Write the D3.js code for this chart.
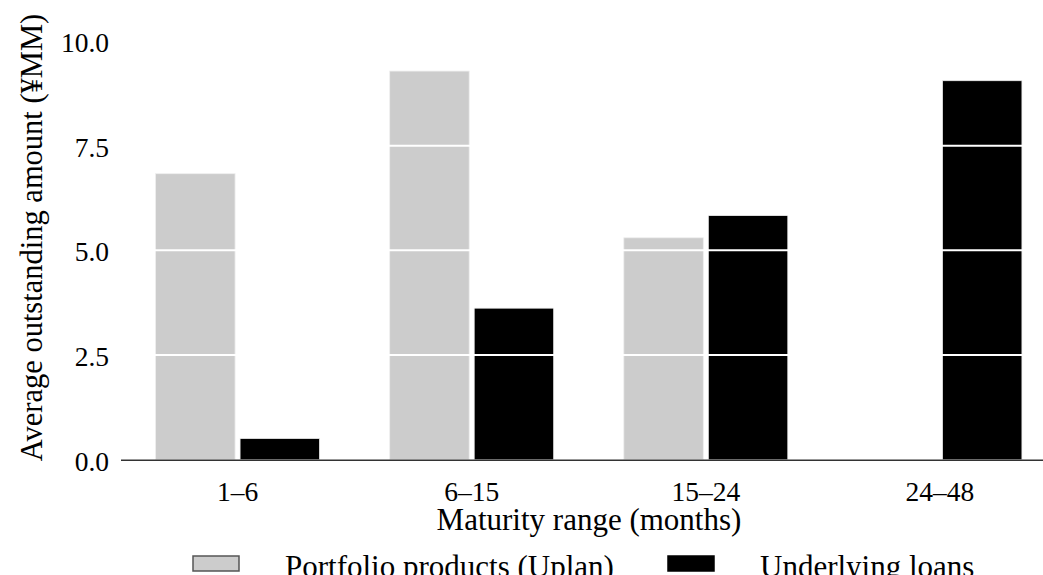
<!DOCTYPE html>
<html>
<head>
<meta charset="utf-8">
<script src="https://cdn.jsdelivr.net/npm/d3@7"></script>
<style>
  body { margin: 0; background: #fff; }
  svg { display: block; font-family: "Liberation Serif", "Times New Roman", serif; }
</style>
</head>
<body>
<svg id="chart" width="1043" height="575"></svg>
<script>
// Data
const categories = ["1–6", "6–15", "15–24", "24–48"];
const seriesNames = ["Portfolio products (Uplan)", "Underlying loans"];
const portfolio = [6.83, 9.28, 5.3, 0];
const loans = [0.51, 3.62, 5.83, 9.05];
const yTicks = [0, 2.5, 5, 7.5, 10];
const colors = ["#cccccc", "#000000"];

const svg = d3.select("#chart");

// Scales
const x = d3.scaleBand().domain(categories).range([120.5, 1057]).padding(0);
const groupW = 164;
const xInner = d3
  .scaleBand()
  .domain(seriesNames)
  .range([(x.bandwidth() - groupW) / 2, (x.bandwidth() + groupW) / 2])
  .paddingInner(0.059);
const y = d3.scaleLinear().domain([0, 10]).range([459.8, 40.9]);

const rows = categories.map((c, i) => ({
  cat: c,
  vals: [
    { name: seriesNames[0], v: portfolio[i], color: colors[0] },
    { name: seriesNames[1], v: loans[i], color: colors[1] },
  ],
}));

// Bars
svg
  .append("g")
  .selectAll("g")
  .data(rows)
  .join("g")
  .attr("transform", (d) => `translate(${x(d.cat)},0)`)
  .selectAll("rect")
  .data((d) => d.vals.filter((e) => e.v > 0))
  .join("rect")
  .attr("x", (d) => xInner(d.name))
  .attr("width", xInner.bandwidth())
  .attr("y", (d) => y(d.v))
  .attr("height", (d) => y(0) - y(d.v))
  .attr("fill", (d) => d.color)
  .attr("stroke", "#eeeeee")
  .attr("stroke-width", 0.8);

// White grid lines over the bars
svg
  .append("g")
  .selectAll("line")
  .data(yTicks.filter((t) => t > 0))
  .join("line")
  .attr("x1", 121)
  .attr("x2", 1057)
  .attr("y1", (d) => y(d))
  .attr("y2", (d) => y(d))
  .attr("stroke", "#fff")
  .attr("stroke-width", 2);

// Axes
const yAxis = svg
  .append("g")
  .attr("transform", "translate(121,0)")
  .call(
    d3.axisLeft(y).tickValues(yTicks).tickFormat(d3.format(".1f")).tickSize(0).tickPadding(12)
  );
yAxis.select(".domain").remove();
yAxis
  .selectAll("text")
  .attr("font-size", 27.5)
  .attr("font-family", "Liberation Serif, serif")
  .attr("fill", "#000")
  .attr("dy", "0.38em");

const xAxis = svg
  .append("g")
  .attr("transform", `translate(0,${y(0)})`)
  .call(d3.axisBottom(x).tickSize(0).tickPadding(21.5));
xAxis.select(".domain").attr("stroke", "#333").attr("stroke-width", 1.5);
xAxis
  .selectAll("text")
  .attr("font-size", 27.5)
  .attr("font-family", "Liberation Serif, serif")
  .attr("fill", "#000");

// Axis titles
svg
  .append("text")
  .attr("x", 589)
  .attr("y", 530)
  .attr("text-anchor", "middle")
  .attr("font-size", 31)
  .text("Maturity range (months)");

svg
  .append("text")
  .attr("transform", "translate(42,237.5) rotate(-90)")
  .attr("text-anchor", "middle")
  .attr("font-size", 30.5)
  .text("Average outstanding amount (¥MM)");

// Legend
const legendX = [193, 668];
const legend = svg
  .append("g")
  .selectAll("g")
  .data(seriesNames)
  .join("g")
  .attr("transform", (d, i) => `translate(${legendX[i]},556)`);

legend
  .append("rect")
  .attr("width", 46)
  .attr("height", 15)
  .attr("fill", (d, i) => colors[i])
  .attr("stroke", (d, i) => (i === 0 ? "#555" : "#000"))
  .attr("stroke-width", 1.5);

legend
  .append("text")
  .attr("x", 92)
  .attr("y", 20.5)
  .attr("font-size", 31)
  .text((d) => d);
</script>
</body>
</html>
